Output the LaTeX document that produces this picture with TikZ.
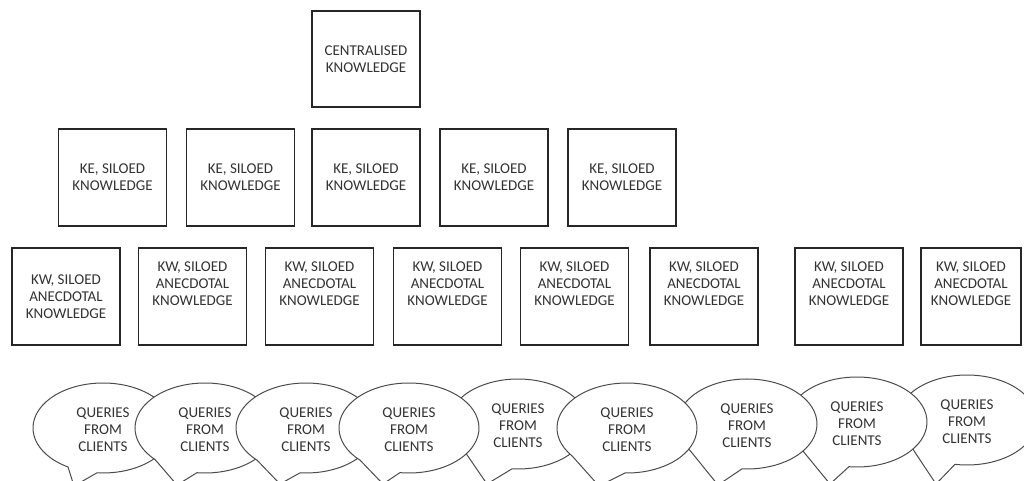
\documentclass[tikz,border=0pt]{standalone}
\usepackage{fontspec}
\setmainfont{Carlito}
\newcommand{\qbubble}[8]{%
  \filldraw[bubble] (#2,#3) ++(#4:70 and 45) arc[start angle=#4, end angle=#5, x radius=70, y radius=45] -- (#6,#7) -- cycle;
  \node[lbl] (#1) at (#2,#8) {QUERIES\\FROM\\CLIENTS};
}
\begin{document}
\begin{tikzpicture}[x=0.5pt,y=-0.5pt,
  lbl/.style={align=center, inner sep=0pt, font=\fontsize{7.5}{8.5}\selectfont, text=black!80},
  box/.style={lbl, draw=black!85, line width=0.6pt, minimum width=54pt, minimum height=48.5pt},
  bubble/.style={draw=black!70, fill=white, line width=0.5pt, line join=round}
]
\useasboundingbox (0,0) rectangle (1024,481);
\fill[white] (0,0) rectangle (1024,481);
\clip (0,0) rectangle (1024,481);

% centralised
\node[box, minimum height=48pt] (c) at (366,59) {CENTRALISED\\KNOWLEDGE};

% KE row
\node[box] (ke1) at (112.5,177.5) {KE, SILOED\\KNOWLEDGE};
\node[box] (ke2) at (240.5,177.5) {KE, SILOED\\KNOWLEDGE};
\node[box] (ke3) at (366,177.5) {KE, SILOED\\KNOWLEDGE};
\node[box] (ke4) at (494,177.5) {KE, SILOED\\KNOWLEDGE};
\node[box] (ke5) at (622,177.5) {KE, SILOED\\KNOWLEDGE};

% KW row
\node[box] (kw1) at (66,296.5) {KW, SILOED\\ANECDOTAL\\KNOWLEDGE};
\node[box] (kw2) at (192.5,296.5) {};
\node[lbl] (kw2t) at (192.5,284) {KW, SILOED\\ANECDOTAL\\KNOWLEDGE};
\node[box] (kw3) at (319.5,296.5) {};
\node[lbl] (kw3t) at (319.5,284) {KW, SILOED\\ANECDOTAL\\KNOWLEDGE};
\node[box] (kw4) at (447.5,296.5) {};
\node[lbl] (kw4t) at (447.5,284) {KW, SILOED\\ANECDOTAL\\KNOWLEDGE};
\node[box] (kw5) at (574.5,296.5) {};
\node[lbl] (kw5t) at (574.5,284) {KW, SILOED\\ANECDOTAL\\KNOWLEDGE};
\node[box] (kw6) at (704,296.5) {};
\node[lbl] (kw6t) at (704,284) {KW, SILOED\\ANECDOTAL\\KNOWLEDGE};
\node[box] (kw7) at (849,296.5) {};
\node[lbl] (kw7t) at (849,284) {KW, SILOED\\ANECDOTAL\\KNOWLEDGE};
\node[box, minimum width=50pt] (kw8) at (971,296.5) {};
\node[lbl] (kw8t) at (971,284) {KW, SILOED\\ANECDOTAL\\KNOWLEDGE};

% bubbles (stacking order as in the reference)
\qbubble{q1}{103}{428}{120}{454.9}{74}{486}{430}
\qbubble{q2}{205}{428}{135.6}{456.6}{177}{485}{430}
\qbubble{q3}{306}{428}{134.4}{454.9}{280}{484}{430}
\qbubble{q5}{518}{424}{136.8}{454.9}{487}{484}{426}
\qbubble{q4}{409}{428}{134.4}{457.4}{383}{484}{430}
\qbubble{q9}{967}{420}{141.8}{459.9}{936}{484}{422}
\qbubble{q8}{857}{422}{141.8}{456.6}{830}{484}{424}
\qbubble{q7}{747}{424}{146}{454.1}{718}{485}{426}
\qbubble{q6}{627}{428}{141.8}{451.6}{599}{486}{430}
\end{tikzpicture}
\end{document}
